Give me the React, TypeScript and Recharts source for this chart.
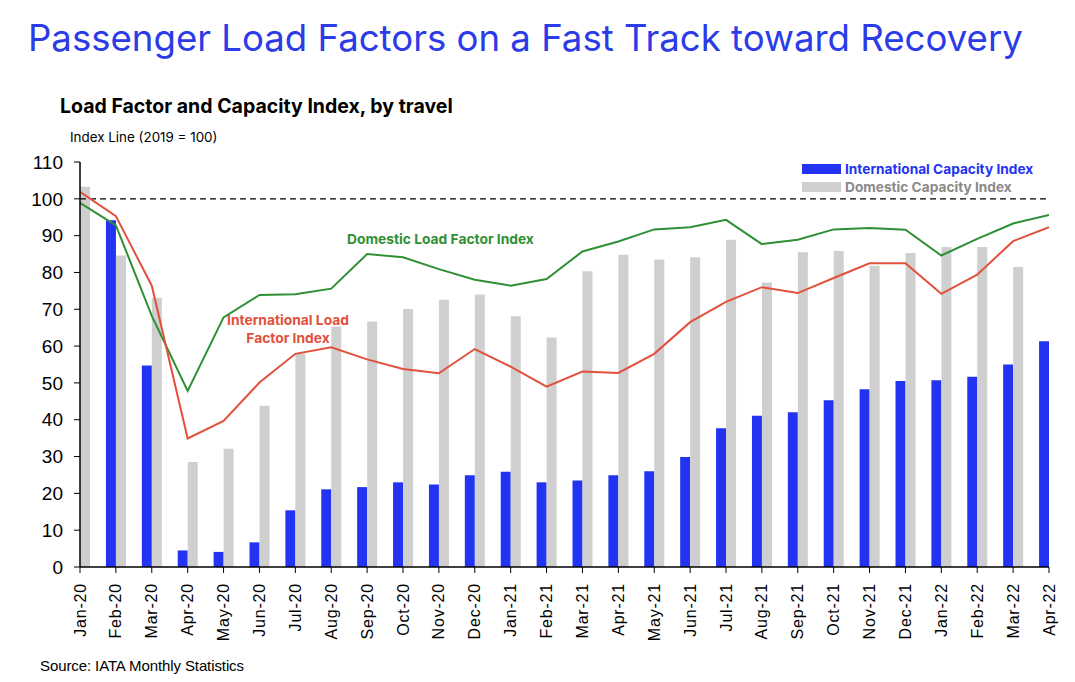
import { ComposedChart, Bar, Line, XAxis, YAxis, ReferenceLine } from "recharts"

const months = [
  "Jan-20", "Feb-20", "Mar-20", "Apr-20", "May-20", "Jun-20", "Jul-20", "Aug-20", "Sep-20", "Oct-20",
  "Nov-20", "Dec-20", "Jan-21", "Feb-21", "Mar-21", "Apr-21", "May-21", "Jun-21", "Jul-21", "Aug-21",
  "Sep-21", "Oct-21", "Nov-21", "Dec-21", "Jan-22", "Feb-22", "Mar-22", "Apr-22",
]

const intlCapacity = [
  100, 94.2, 54.7, 4.5, 4.1, 6.7, 15.4, 21.1, 21.7, 23.0, 22.4, 24.9, 25.9, 23.0, 23.5, 24.9, 26.0, 29.9,
  37.7, 41.1, 42.0, 45.3, 48.3, 50.5, 50.7, 51.7, 55.0, 61.3,
]

const domCapacity = [
  103.3, 84.6, 73.1, 28.5, 32.1, 43.8, 58.0, 65.3, 66.7, 70.1, 72.6, 74.0, 68.1, 62.3, 80.3, 84.8, 83.5, 84.1,
  88.9, 77.3, 85.5, 85.8, 81.8, 85.3, 86.9, 86.9, 81.5, 77.6,
]

const domLoadFactor = [
  98.9, 92.8, 68.2, 47.8, 67.8, 73.9, 74.1, 75.6, 85.0, 84.1, 80.9, 78.0, 76.4, 78.2, 85.7, 88.4, 91.7, 92.3,
  94.3, 87.7, 88.9, 91.7, 92.1, 91.6, 84.6, 89.1, 93.3, 95.6,
]

const intlLoadFactor = [
  101.9, 95.3, 76.4, 34.9, 39.7, 50.1, 57.9, 59.7, 56.4, 53.8, 52.6, 59.2, 54.4, 49.0, 53.1, 52.7, 57.9, 66.5,
  72.0, 76.0, 74.4, 78.5, 82.5, 82.5, 74.2, 79.4, 88.5, 92.3,
]

const yTicks = [0, 10, 20, 30, 40, 50, 60, 70, 80, 90, 100, 110]

const data = months.map((m, i) => ({
  i,
  month: m,
  intlCapacity: intlCapacity[i],
  domCapacity: domCapacity[i],
  domLoadFactor: domLoadFactor[i],
  intlLoadFactor: intlLoadFactor[i],
}))

const BLUE = "#2233f2"
const GRAY = "#cfcfcf"
const GREEN = "#2f8f35"
const RED = "#e2503c"

const MonthTick = ({ x, y, payload }: any) => (
  <text
    x={x}
    y={y + 8}
    transform={`rotate(-90, ${x}, ${y + 8})`}
    textAnchor="end"
    dominantBaseline="central"
    fontFamily="Liberation Sans, Arial, sans-serif"
    fontSize={16}
    letterSpacing={0.8}
    fill="#000"
  >
    {months[payload.value]}
  </text>
)

export default function App() {
  return (
    <div style={{ position: "absolute", left: 0, top: 0, width: 1075, height: 682, background: "#fff", fontFamily: "Inter, sans-serif" }}>
      <div style={{ position: "absolute", left: 28, top: 16, fontSize: 36.6, color: "#2b3be8", whiteSpace: "nowrap" }}>
        Passenger Load Factors on a Fast Track toward Recovery
      </div>
      <div style={{ position: "absolute", left: 60, top: 94, fontSize: 19.5, fontWeight: 700, color: "#000", whiteSpace: "nowrap" }}>
        Load Factor and Capacity Index, by travel
      </div>
      <div style={{ position: "absolute", left: 70, top: 129, fontSize: 13.4, color: "#000", whiteSpace: "nowrap" }}>
        Index Line (2019 = 100)
      </div>

      <ComposedChart
        width={1075}
        height={682}
        data={data}
        margin={{ top: 162, right: 26, bottom: 15, left: 20 }}
        barGap={0}
      >
        <XAxis
          dataKey="i"
          type="number"
          domain={[0, 27]}
          ticks={data.map((d) => d.i)}
          allowDataOverflow
          interval={0}
          height={100}
          tick={<MonthTick />}
          tickLine={{ stroke: "#000" }}
          tickSize={6}
          axisLine={{ stroke: "#000", strokeWidth: 1.5 }}
        />
        <YAxis
          domain={[0, 110]}
          ticks={yTicks}
          interval={0}
          width={60}
          tickSize={6}
          tickMargin={11}
          tickLine={{ stroke: "#000" }}
          axisLine={{ stroke: "#000", strokeWidth: 1.5 }}
          tick={{ fontSize: 19, fill: "#000", fontFamily: "Liberation Sans, Arial, sans-serif" }}
        />
        <Bar dataKey="intlCapacity" fill={BLUE} barSize={10} isAnimationActive={false} />
        <Bar dataKey="domCapacity" fill={GRAY} barSize={10} isAnimationActive={false} />
        <ReferenceLine y={100} stroke="#000" strokeWidth={1.3} strokeDasharray="6 4" />
        <Line dataKey="domLoadFactor" type="linear" stroke={GREEN} strokeWidth={2} dot={false} isAnimationActive={false} />
        <Line dataKey="intlLoadFactor" type="linear" stroke={RED} strokeWidth={2} dot={false} isAnimationActive={false} />
      </ComposedChart>

      <div style={{ position: "absolute", left: 347, top: 231, fontSize: 13.8, fontWeight: 700, color: GREEN, whiteSpace: "nowrap" }}>
        Domestic Load Factor Index
      </div>
      <div style={{ position: "absolute", left: 208, top: 311, width: 160, textAlign: "center", fontSize: 13.8, fontWeight: 700, color: RED, lineHeight: "18px" }}>
        International Load
        <br />
        Factor Index
      </div>

      <div style={{ position: "absolute", left: 802, top: 161, display: "flex", alignItems: "center", fontSize: 13.7, fontWeight: 700 }}>
        <span style={{ display: "inline-block", width: 39, height: 10, background: BLUE, marginRight: 4 }} />
        <span style={{ color: BLUE }}>International Capacity Index</span>
      </div>
      <div style={{ position: "absolute", left: 802, top: 179, display: "flex", alignItems: "center", fontSize: 13.7, fontWeight: 700 }}>
        <span style={{ display: "inline-block", width: 39, height: 10, background: GRAY, marginRight: 4 }} />
        <span style={{ color: "#8a8a8a" }}>Domestic Capacity Index</span>
      </div>

      <div style={{ position: "absolute", left: 40, top: 657, fontSize: 15, color: "#000", fontFamily: "Liberation Sans, Arial, sans-serif", whiteSpace: "nowrap", letterSpacing: -0.1 }}>
        Source: IATA Monthly Statistics
      </div>
    </div>
  )
}
